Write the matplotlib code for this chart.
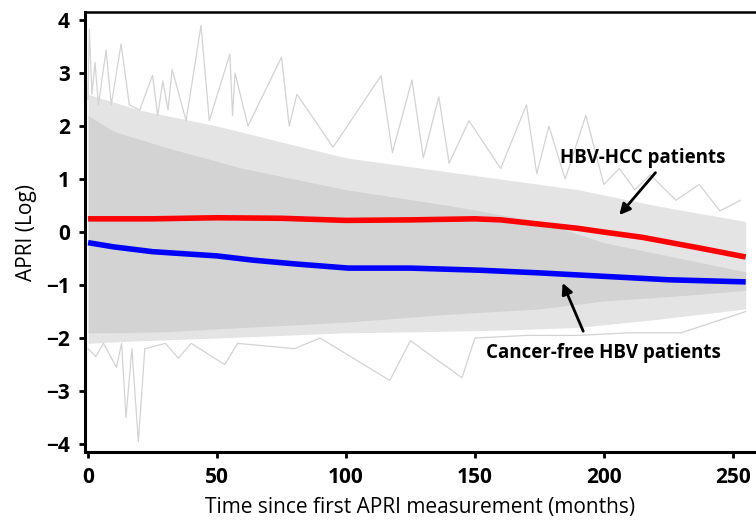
import matplotlib.pyplot as plt

# mean trajectories (months, log APRI)
red_t = [0, 25, 50, 75, 100, 125, 150, 160, 175, 190, 200, 215, 237, 255]
red_v = [0.25, 0.25, 0.27, 0.26, 0.22, 0.23, 0.25, 0.23, 0.15, 0.07, 0.0, -0.1, -0.3, -0.47]
blue_t = [0, 10, 25, 50, 64, 80, 101, 125, 152, 175, 198, 225, 255]
blue_v = [-0.2, -0.28, -0.37, -0.45, -0.53, -0.6, -0.68, -0.68, -0.72, -0.77, -0.83, -0.9, -0.94]

# grey cloud of individual patients, read as envelopes
core_t = [0, 10, 30, 60, 100, 140, 175, 200, 230, 255]
core_hi = [2.2, 1.9, 1.6, 1.2, 0.8, 0.5, 0.2, -0.2, -0.5, -0.75]
core_lo = [-1.9, -1.9, -1.88, -1.8, -1.7, -1.55, -1.45, -1.3, -1.2, -1.1]
halo_t = [0, 20, 50, 75, 100, 130, 160, 190, 220, 255]
halo_hi = [2.6, 2.3, 2.0, 1.7, 1.4, 1.2, 1.0, 0.8, 0.5, 0.2]
halo_lo = [-2.1, -2.05, -2.0, -1.95, -1.9, -1.88, -1.85, -1.8, -1.65, -1.45]

up_t = [0, 0.5, 1.5, 2.7, 4, 7, 9, 12.8, 16, 20, 25, 27, 29, 31, 32.6, 38, 43.8, 47,
        55, 56, 57, 62, 75, 78, 81, 95, 113.6, 118, 125.6, 130, 136, 140, 147.7,
        160, 170, 174, 178.7, 185, 193, 200, 206, 212, 218, 228, 237, 245, 253]
up_v = [2.5, 3.83, 2.6, 3.2, 2.4, 3.43, 2.4, 3.55, 2.4, 2.3, 2.96, 2.2, 2.85, 2.3, 3.07,
        2.1, 3.9, 2.1, 3.36, 2.2, 3.0, 2.0, 3.3, 2.0, 2.6, 1.6, 2.95, 1.5, 2.87, 1.4,
        2.55, 1.3, 2.1, 1.2, 2.4, 1.1, 2.0, 1.0, 2.2, 0.9, 1.2, 0.8, 1.08, 0.6, 0.9, 0.4, 0.6]
lo_t = [0, 3, 6, 11, 13, 14.7, 17, 19.5, 22, 30, 35, 40, 53, 58, 80, 90, 117, 125,
        145, 150, 170, 190, 210, 230, 255]
lo_v = [-2.2, -2.35, -2.1, -2.55, -2.1, -3.5, -2.2, -3.96, -2.2, -2.1, -2.38, -2.1,
        -2.5, -2.1, -2.2, -2.0, -2.8, -2.05, -2.75, -2.0, -1.95, -1.95, -1.9, -1.9, -1.5]

xticks = [0, 50, 100, 150, 200, 250]
yticks = [-4, -3, -2, -1, 0, 1, 2, 3, 4]

plt.rcParams['font.family'] = ['Open Sans', 'DejaVu Sans']

fig = plt.figure(figsize=(7.56, 5.27), dpi=100)
ax = fig.add_axes([0.1124, 0.1423, 0.8876, 0.8347])

grey = '#d3d3d3'
ax.fill_between(halo_t, halo_lo, halo_hi, color='#e4e4e4', lw=0, zorder=1)
ax.fill_between(core_t, core_lo, core_hi, color=grey, lw=0, zorder=2)
ax.plot(up_t, up_v, color=grey, lw=0.9, zorder=1)
ax.plot(lo_t, lo_v, color=grey, lw=0.9, zorder=1)

ax.plot(red_t, red_v, color='#ff0000', lw=4, solid_capstyle='butt', zorder=3)
ax.plot(blue_t, blue_v, color='#0000ff', lw=4, solid_capstyle='butt', zorder=3)

arrow = dict(arrowstyle='-|>', color='black', lw=2, mutation_scale=16, shrinkA=0, shrinkB=0)
ax.text(215, 1.4, 'HBV-HCC patients', ha='center', va='center',
        fontsize=13.5, fontweight='bold', zorder=4)
ax.annotate('', xy=(206, 0.32), xytext=(220, 1.12), arrowprops=arrow, zorder=4)
ax.text(200, -2.28, 'Cancer-free HBV patients', ha='center', va='center',
        fontsize=13.5, fontweight='bold', zorder=4)
ax.annotate('', xy=(184, -0.96), xytext=(192, -1.87), arrowprops=arrow, zorder=4)

ax.set_xlim(-1.2, 259)
ax.set_ylim(-4.15, 4.15)
ax.set_xticks(xticks)
ax.set_yticks(yticks)
ax.tick_params(direction='out', length=4, width=2, labelsize=15, pad=7)
for lab in ax.get_xticklabels() + ax.get_yticklabels():
    lab.set_fontweight('bold')

ax.spines['right'].set_visible(False)
ax.spines['left'].set_linewidth(2.2)
ax.spines['bottom'].set_linewidth(2.2)
ax.spines['top'].set_linewidth(1.8)

ax.set_xlabel('Time since first APRI measurement (months)', fontsize=15, labelpad=6)
ax.set_ylabel('APRI (Log)', fontsize=15, labelpad=6)

fig.savefig('out.png', dpi=100)
